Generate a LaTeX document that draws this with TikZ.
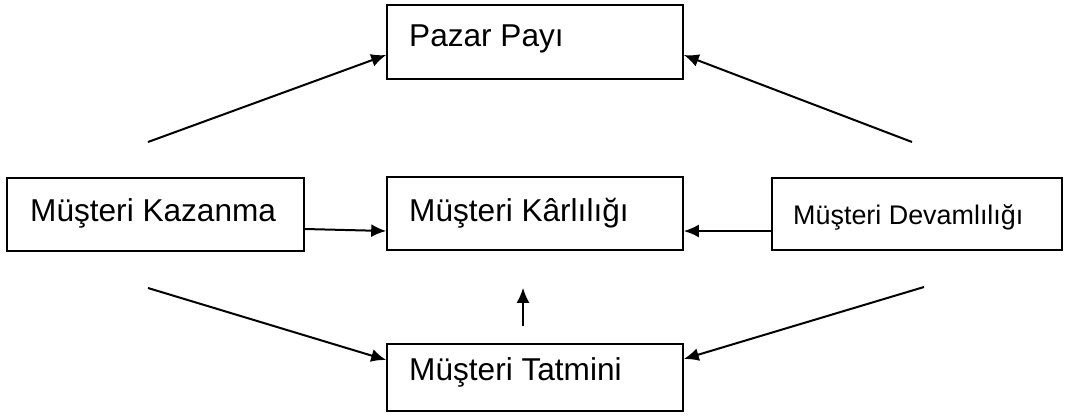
\documentclass[tikz,border=0pt]{standalone}
\usepackage{fontspec}
\setmainfont{Liberation Sans}
\usepackage{tikz}
\usetikzlibrary{arrows.meta}

\begin{document}
\begin{tikzpicture}[x=1pt, y=-1pt,
		box/.style={draw, line width=1.6pt, rectangle, inner sep=0pt},
		lbl/.style={anchor=base west, inner sep=0pt, font=\fontsize{31.6}{36}\selectfont},
		arr/.style={line width=2pt, -{Latex[length=15pt, width=13pt]}}]
				\useasboundingbox (0,0) rectangle (1065,416);
				\node[box, minimum width=296pt, minimum height=74pt] (pazar) at (535,42) {};
				\node[box, minimum width=297pt, minimum height=73pt] (kazanma) at (155.5,214.5) {};
				\node[box, minimum width=296pt, minimum height=73pt] (karlilik) at (535,213.5) {};
				\node[box, minimum width=290pt, minimum height=72pt] (devam) at (917,214) {};
				\node[box, minimum width=296pt, minimum height=67pt] (tatmin) at (535,377.5) {};
				\node[lbl] (pazarlbl) at (409,46) {Pazar Payı};
				\node[lbl] (kazanmalbl) at (30,221) {Müşteri Kazanma};
				\node[lbl] (karliliklbl) at (409,221) {Müşteri Kârlılığı};
				\node[lbl, font=\fontsize{26.9}{31}\selectfont] (devamlbl) at (793,224) {Müşteri Devamlılığı};
				\node[lbl] (tatminlbl) at (409,380) {Müşteri Tatmini};
				\coordinate (ul) at (148,142);
				\coordinate (ur) at (912,142);
				\coordinate (ll) at (148,288);
				\coordinate (lr) at (924,287);
				\draw[arr] (ul) -- ([yshift=-13pt]pazar.west);
				\draw[arr] (ur) -- ([yshift=-13pt]pazar.east);
				\draw[arr] ([yshift=-14.5pt]kazanma.east) -- ([yshift=-17.5pt]karlilik.west);
				\draw[arr] ([yshift=-17pt]devam.west) -- ([yshift=-17.5pt]karlilik.east);
				\draw[arr] (ll) -- ([yshift=17.5pt]tatmin.west);
				\draw[arr] (lr) -- ([yshift=18.5pt]tatmin.east);
				\draw[arr] ([xshift=-12pt, yshift=17pt]tatmin.north) -- ([xshift=-12pt, yshift=-37pt]karlilik.south);
			\end{tikzpicture}
\end{document}
